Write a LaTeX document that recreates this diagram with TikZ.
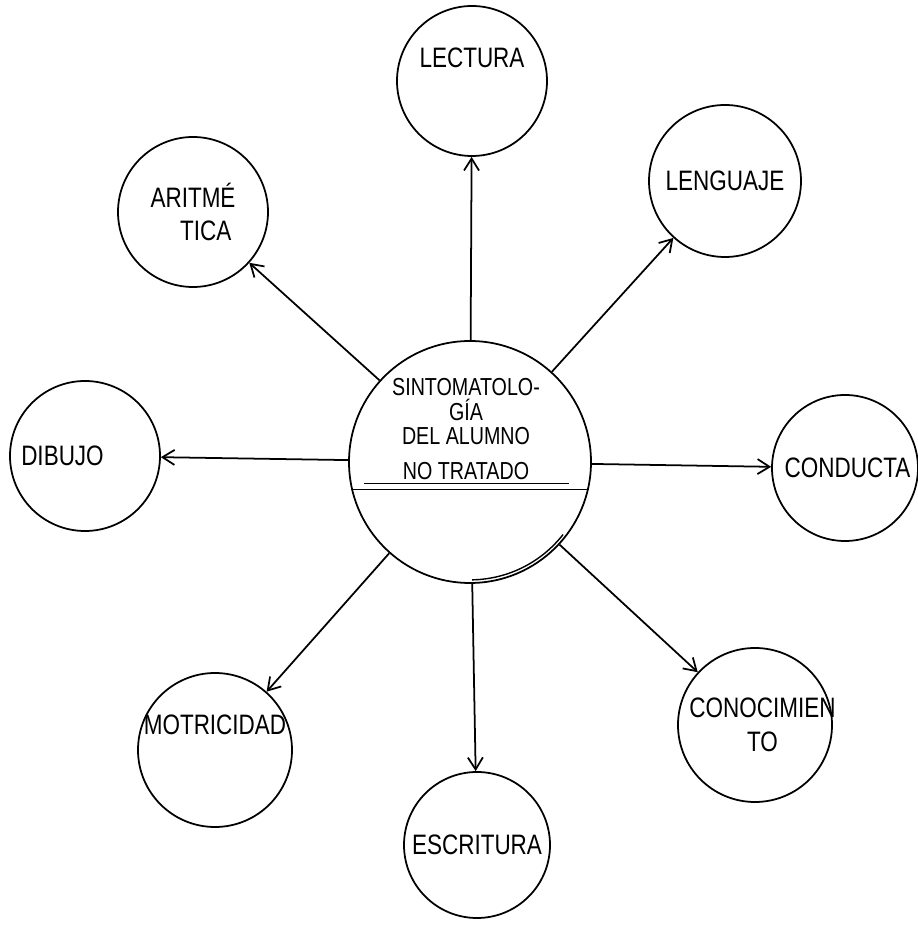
\documentclass[tikz,border=0pt]{standalone}
\usepackage{fontspec}
\setmainfont{Liberation Sans}[FakeStretch=0.8]
\usetikzlibrary{arrows.meta}

\tikzset{
    tema/.style={circle, draw, line width=1pt, inner sep=0pt, minimum size=3cm, align=center, font=\fontsize{16}{19}\selectfont},
    centro/.style={circle, draw, line width=1pt, inner sep=0pt, minimum size=4.84cm},
    flecha/.style={line width=1pt, -{Straight Barb[length=2.4mm,width=3mm]}}
}

\begin{document}
\begin{tikzpicture}
            \useasboundingbox (0,0) rectangle (18.36,18.5);
            \node (main) at (9.40,9.26) [centro] {};
            \node (titulo) at (9.32,9.92) [align=center, font=\fontsize{14}{14}\selectfont] {SINTOMATOLO-\\[0.6pt] GÍA\\[-0.4pt] DEL ALUMNO\\[6pt] NO TRATADO};
            \draw[line width=1pt] (main.193) -- (main.347);
            \draw[line width=1pt] ([shift={(0.25,0.12)}]main.193) -- ([shift={(-0.4,0.12)}]main.347);
            \draw[line width=0.8pt] ([shift={(0,0.08)}]main.-89) arc[start angle=-89, end angle=-38, radius=2.36cm];

            \node (lectura) at (9.44,16.88) [tema] {LECTURA\\[8pt]};
            \node (lenguaje) at (14.50,14.88) [tema, minimum size=3.04cm] {\makebox[2.4cm]{LENGUAJE}};
            \node (aritmetica) at (3.86,14.26) [tema] {ARITMÉ\\ \hspace{0.9em}TICA};
            \node (dibujo) at (1.70,9.38) [tema] {DIBUJO\hspace{0.9cm}};
            \node (conducta) at (16.90,9.14) [tema, minimum size=2.92cm] {\hspace{0.1cm}CONDUCTA};
            \node (conocimiento) at (15.10,4.00) [tema, minimum size=3.08cm] {\makebox[2.4cm]{\hspace{0.3cm}CONOCIMIEN}\\ \hspace{0.3cm}TO};
            \node (escritura) at (9.54,1.60) [tema, minimum size=2.92cm] {ESCRITURA};
            \node (motricidad) at (4.30,3.50) [tema, minimum size=3.08cm] {\makebox[2.4cm]{MOTRICIDAD}\\[10pt]};

            \draw[flecha] (main) -- (lectura);
            \draw[flecha] (main) -- (lenguaje);
            \draw[flecha] (main) -- (aritmetica);
            \draw[flecha] (main) -- (dibujo);
            \draw[flecha] (main) -- (conducta);
            \draw[flecha] (main) -- (conocimiento);
            \draw[flecha] (main) -- (escritura);
            \draw[flecha] (main) -- (motricidad);
        \end{tikzpicture}
\end{document}
